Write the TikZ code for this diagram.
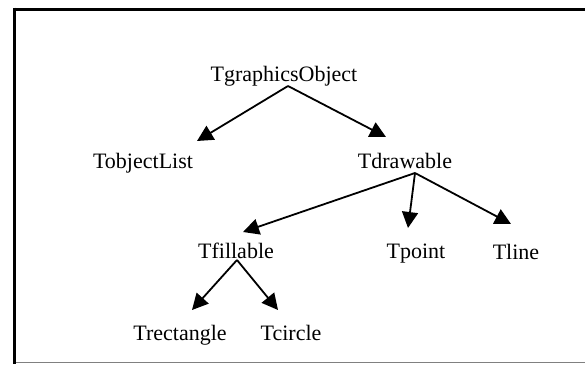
\documentclass[tikz,border=0pt]{standalone}
\usepackage{fontspec}
\setmainfont{Liberation Serif}
\usetikzlibrary{arrows.meta}
\begin{document}
\begin{tikzpicture}[x=1pt,y=-1pt,
  lbl/.style={anchor=base,inner sep=0pt,font=\fontsize{22}{26}\selectfont},
  arr/.style={line width=1.8pt,-{Triangle[length=16pt,width=16pt]}}]
\useasboundingbox (0,0) rectangle (585,364);
\fill[white] (0,0) rectangle (585,364);
% frame
\draw[line width=3pt] (14.5,9) -- (585,9);
\draw[line width=3pt] (14.5,7.5) -- (14.5,364);
\draw[line width=1pt,gray] (16,362.5) -- (585,362.5);
% nodes
\node[lbl] (g)  at (284,81)  {TgraphicsObject};
\node[lbl] (ol) at (143,168) {TobjectList};
\node[lbl] (dr) at (405,168) {Tdrawable};
\node[lbl] (fi) at (236,258) {Tfillable};
\node[lbl] (pt) at (416,258) {Tpoint};
\node[lbl] (ln) at (516,259) {Tline};
\node[lbl] (re) at (180,340) {Trectangle};
\node[lbl] (ci) at (291,340) {Tcircle};
% connector ends
\coordinate (g-out)  at (288,86);
\coordinate (ol-in)  at (197,141);
\coordinate (dr-in)  at (386,137);
\coordinate (dr-out) at (415,173);
\coordinate (fi-in)  at (243,232);
\coordinate (pt-in)  at (408,228);
\coordinate (ln-in)  at (511,224);
\coordinate (fi-out) at (237,260);
\coordinate (re-in)  at (192,310);
\coordinate (ci-in)  at (278,310);
% connectors
\draw[arr] (g-out) -- (ol-in);
\draw[arr] (g-out) -- (dr-in);
\draw[arr] (dr-out) -- (fi-in);
\draw[arr] (dr-out) -- (pt-in);
\draw[arr] (dr-out) -- (ln-in);
\draw[arr] (fi-out) -- (re-in);
\draw[arr] (fi-out) -- (ci-in);
\end{tikzpicture}
\end{document}
